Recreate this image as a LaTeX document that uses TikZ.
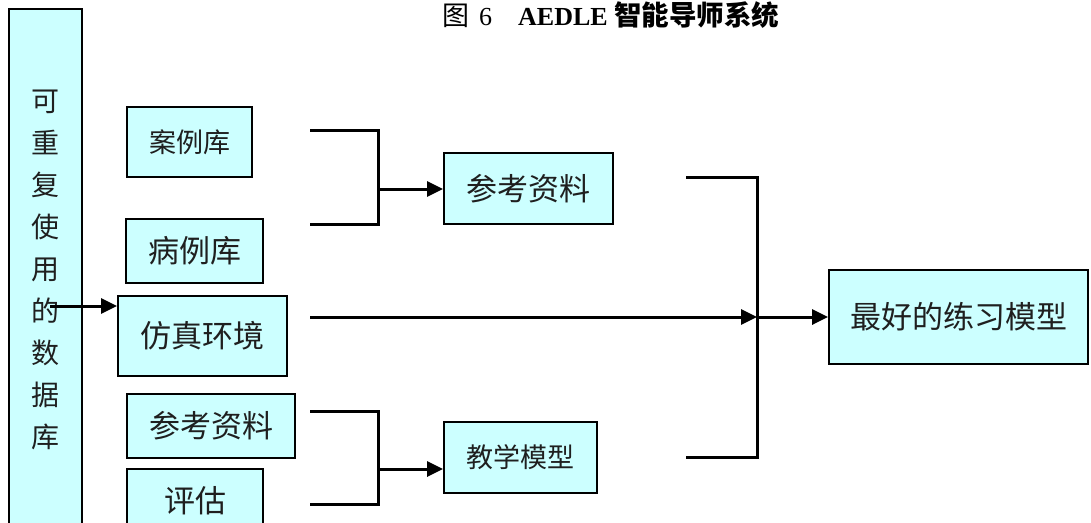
\documentclass[tikz,border=0pt]{standalone}
\usepackage{fontspec}
\setmainfont{Liberation Serif}
\newfontfamily\cjk{Noto Sans CJK SC}
\usetikzlibrary{arrows.meta}
\definecolor{boxcyan}{HTML}{CCFFFF}
\tikzset{
  box/.style={draw=black, fill=boxcyan, line width=1.8pt, inner sep=0pt,
    font=\cjk\fontsize{31}{36}\selectfont, text=black!88},
  smalltext/.style={font=\cjk\fontsize{27}{32}\selectfont},
  conn/.style={line width=3pt, line join=miter},
  arr/.style={conn, -{Triangle[length=16pt,width=15pt]}},
}
\begin{document}
\begin{tikzpicture}[x=1pt,y=-1pt]
\useasboundingbox (0,0) rectangle (1091,522);
\clip (0,0) rectangle (1091,522);

% title
\node[anchor=west, inner sep=0pt, font=\fontsize{26}{30}\selectfont] (title) at (442,15)
  {{\cjk\fontsize{27}{30}\selectfont 图}\hspace{10pt}6\hspace{26pt}{\bfseries AEDLE} {\cjk\bfseries\fontsize{27.5}{30}\selectfont 智能导师系统}};

% database column
\node[box, minimum width=73pt, minimum height=531pt] (db) at (45.5,274.5) {};
\node[align=center, inner sep=0pt, font=\cjk\fontsize{28}{42}\selectfont, text=black!88] (dbtext) at (45,269.5)
  {可\\重\\复\\使\\用\\的\\数\\据\\库};

% left boxes
\node[box, smalltext, minimum width=125pt, minimum height=70pt] (case) at (189.5,142) {案例库};
\node[box, minimum width=137pt, minimum height=64pt] (ill) at (194.5,251) {病例库};
\node[box, minimum width=169pt, minimum height=80pt] (sim) at (202.5,336) {仿真环境};
\node[box, minimum width=168pt, minimum height=64pt] (refl) at (211,426) {参考资料};
\node[box, minimum width=136pt, minimum height=64pt] (eval) at (195,501) {评估};

% middle boxes
\node[box, minimum width=169pt, minimum height=71pt] (refr) at (528.5,188.5) {参考资料};
\node[box, smalltext, minimum width=153pt, minimum height=71pt] (teach) at (520.5,457.5) {教学模型};

% result
\node[box, minimum width=259pt, minimum height=94pt] (best) at (958.5,317) {最好的练习模型};

% coordinates
\coordinate (dbout) at (50,306);
\coordinate (t1) at (310,130);
\coordinate (t2) at (310,224);
\coordinate (tj) at (378,189);
\coordinate (m1) at (310,317);
\coordinate (mj) at (757,317);
\coordinate (b1) at (310,411);
\coordinate (b2) at (310,504);
\coordinate (bj) at (378,469);
\coordinate (r1) at (686,177);
\coordinate (r2) at (686,457);

% connectors
\draw[arr] (dbout) -- (sim.west |- dbout);
\draw[conn] (t1) -| (tj) |- (t2);
\draw[arr] (tj) -- (refr.west |- tj);
\draw[conn] (b1) -| (bj) |- (b2);
\draw[arr] (bj) -- (teach.west |- bj);
\draw[conn] (r1) -| (mj) |- (r2);
\draw[arr] (m1) -- (mj);
\draw[arr] (mj) -- (best.west);
\end{tikzpicture}
\end{document}
